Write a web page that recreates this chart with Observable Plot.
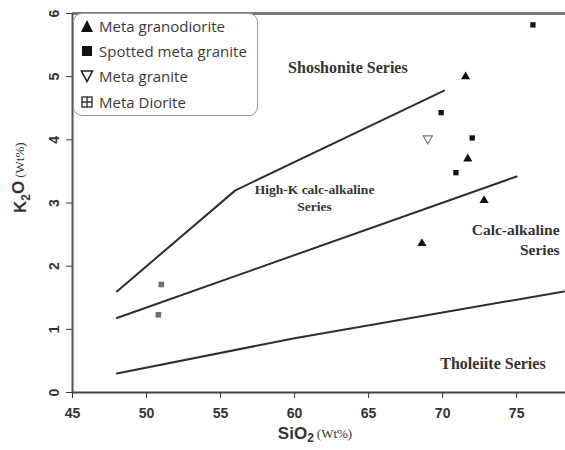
<!DOCTYPE html>
<html>
<head>
<meta charset="utf-8">
<script src="https://cdn.jsdelivr.net/npm/d3@7"></script>
<script src="https://cdn.jsdelivr.net/npm/@observablehq/plot@0.6"></script>
<style>
  html, body { margin: 0; padding: 0; background: #fff; }
  #wrap { position: relative; width: 565px; height: 450px; }
  #legend {
    position: absolute; left: 73px; top: 13px; width: 185px; height: 103px;
    border: 1.5px solid #9a9a9a; border-radius: 9px; box-sizing: border-box;
    background: #fff; font-family: "Open Sans", sans-serif; font-size: 15px; color: #3a3a3a;
  }
  .li { position: absolute; left: 0; display: flex; align-items: center; white-space: nowrap; }
  .li svg { margin-left: 6px; margin-right: 5px; }
</style>
</head>
<body>
<div id="wrap">
  <div id="chart"></div>
  <div id="legend"></div>
</div>
<script>
// ---- data ----
const legendNames = ["Meta granodiorite", "Spotted meta granite", "Meta granite", "Meta Diorite"];

const granodioriteSiO2 = [71.55, 71.7, 72.8, 68.6];
const granodioriteK2O  = [5.0, 3.70, 3.04, 2.36];

const spottedSiO2 = [76.1, 69.9, 72.0, 70.9];
const spottedK2O  = [5.82, 4.43, 4.03, 3.48];

const metaGraniteSiO2 = [69.0];
const metaGraniteK2O  = [4.02];

const dioriteSiO2 = [51.0, 50.8];
const dioriteK2O  = [1.71, 1.23];

const shoshoniteLineSiO2 = [48, 56, 70.1];
const shoshoniteLineK2O  = [1.6, 3.2, 4.78];
const highKLineSiO2 = [48, 75];
const highKLineK2O  = [1.18, 3.42];
const tholeiiteLineSiO2 = [48, 60, 78.2];
const tholeiiteLineK2O  = [0.3, 0.86, 1.6];

const xTicks = [45, 50, 55, 60, 65, 70, 75];
const yTicks = [0, 1, 2, 3, 4, 5, 6];

const bigLabels = ["Shoshonite Series", "Tholeiite Series"];
const bigLabelSiO2 = [63.6, 73.4];
const bigLabelK2O = [5.14, 0.46];
const midLabels = ["High-K calc-alkaline\nSeries"];
const midLabelSiO2 = [61.35];
const midLabelK2O = [3.1];
const rightLabels = ["Calc-alkaline\nSeries"];
const rightLabelSiO2 = [77.9];
const rightLabelK2O = [2.44];

// ---- build tables ----
const pts = (xs, ys) => xs.map((x, i) => ({x, y: ys[i]}));
const granodiorite = pts(granodioriteSiO2, granodioriteK2O);
const spotted = pts(spottedSiO2, spottedK2O);
const metaGranite = pts(metaGraniteSiO2, metaGraniteK2O);
const diorite = pts(dioriteSiO2, dioriteK2O);
const lab = (ts, xs, ys) => ts.map((t, i) => ({t, x: xs[i], y: ys[i]}));

const ink = "#2e2e2e";
const serif = "'Liberation Serif', 'Times New Roman', serif";

const chart = Plot.plot({
  width: 565,
  height: 450,
  marginTop: 13,
  marginBottom: 58,
  marginLeft: 72,
  marginRight: 0,
  style: {fontFamily: "'Liberation Sans', Arial, sans-serif", fontSize: "14px", fontWeight: "bold", color: "#333", background: "#fff"},
  x: {domain: [45, 78.3], ticks: xTicks, tickSize: 6, tickPadding: 10, label: null},
  y: {domain: [0, 6], ticks: yTicks, tickSize: 6, tickPadding: 8, tickRotate: -90, tickFormat: d3.format("d"), label: null},
  marks: [
    Plot.line(pts(shoshoniteLineSiO2, shoshoniteLineK2O), {x: "x", y: "y", stroke: ink, strokeWidth: 2}),
    Plot.line(pts(highKLineSiO2, highKLineK2O), {x: "x", y: "y", stroke: ink, strokeWidth: 2}),
    Plot.line(pts(tholeiiteLineSiO2, tholeiiteLineK2O), {x: "x", y: "y", stroke: ink, strokeWidth: 2}),
    Plot.ruleY([6], {stroke: "#777", strokeWidth: 3}),
    Plot.ruleY([0], {stroke: "#444", strokeWidth: 2}),
    Plot.ruleX([45], {stroke: "#555", strokeWidth: 2}),
    Plot.text(lab(bigLabels, bigLabelSiO2, bigLabelK2O), {x: "x", y: "y", text: "t", fontFamily: serif, fontSize: 16, fontWeight: "bold", fill: "#333"}),
    Plot.text(lab(midLabels, midLabelSiO2, midLabelK2O), {x: "x", y: "y", text: "t", fontFamily: serif, fontSize: 13.5, fontWeight: "bold", fill: "#333", lineHeight: 1.25}),
    Plot.text(lab(rightLabels, rightLabelSiO2, rightLabelK2O), {x: "x", y: "y", text: "t", textAnchor: "end", fontFamily: serif, fontSize: 15.5, fontWeight: "bold", fill: "#333", lineHeight: 1.3}),
    Plot.dot(granodiorite, {x: "x", y: "y", symbol: "triangle", r: 3.4, fill: "#111", stroke: "none"}),
    Plot.dot(spotted, {x: "x", y: "y", symbol: "square", r: 3, fill: "#111", stroke: "none"}),
    Plot.dot(metaGranite, {x: "x", y: "y", symbol: "triangle", rotate: 180, r: 3.4, fill: "none", stroke: "#777", strokeWidth: 1.2}),
    Plot.dot(diorite, {x: "x", y: "y", symbol: "square", r: 3.2, fill: "#6e6e6e", stroke: "none"}),
    Plot.text(["SiO2 (Wt%)"], {frameAnchor: "bottom", dy: 46, dx: -4, text: d => d, fill: "#333", fontSize: 17}),
    Plot.text(["K2O (Wt%)"], {frameAnchor: "left", dx: -52, dy: -30, rotate: -90, text: d => d, fill: "#333", fontSize: 17})
  ]
});
document.getElementById("chart").appendChild(chart);

// rich-text axis titles (subscript 2, serif units)
d3.select(chart).selectAll("text").each(function() {
  const s = this.textContent;
  if (s === "SiO2 (Wt%)" || s === "K2O (Wt%)") {
    const el = d3.select(this);
    el.text(null);
    const head = s.startsWith("SiO") ? "SiO" : "K";
    el.append("tspan").text(head);
    el.append("tspan").attr("font-size", 12).attr("dy", "0.3em").text("2");
    if (head === "K") el.append("tspan").attr("dy", "-0.3em").text("O");
    el.append("tspan").attr("dy", head === "K" ? "0" : "-0.3em").attr("font-family", serif)
      .attr("font-weight", "normal").attr("font-size", 13).attr("dx", 3).text("(Wt%)");
  }
});
// shift the K2O title down so it sits where the reference has it
d3.select(chart).selectAll("text").filter(function() { return this.textContent.startsWith("K2O"); })
  .attr("transform", function() { return this.getAttribute("transform").replace(/translate\(([^,]+),([^)]+)\)/, (m, a, b) => `translate(${a},${+b + 40})`); });

// legend
const legend = document.getElementById("legend");
const sym = [
  '<svg width="14" height="14"><path d="M7,1 L13,13 L1,13 Z" fill="#111"/></svg>',
  '<svg width="14" height="14"><rect x="2" y="2" width="10" height="10" fill="#111"/></svg>',
  '<svg width="14" height="14"><path d="M1.5,2 L12.5,2 L7,12.5 Z" fill="none" stroke="#222" stroke-width="1.6"/></svg>',
  '<svg width="14" height="14"><rect x="2" y="2" width="10" height="10" fill="none" stroke="#333" stroke-width="1.4"/><path d="M7,2 V12 M2,7 H12" stroke="#333" stroke-width="1.4"/></svg>'
];
const rowTops = [2, 27, 52, 78];
legendNames.forEach((name, i) => {
  const d = document.createElement("div");
  d.className = "li";
  d.style.top = rowTops[i] + "px";
  d.innerHTML = sym[i] + "<span>" + name + "</span>";
  legend.appendChild(d);
});
</script>
</body>
</html>
